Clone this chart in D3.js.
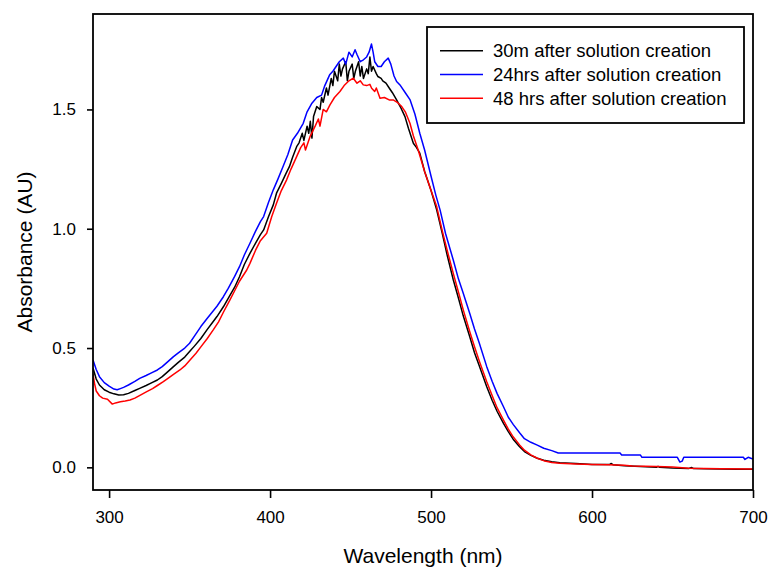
<!DOCTYPE html>
<html>
<head>
<meta charset="utf-8" />
<script src="https://d3js.org/d3.v7.min.js"></script>
<style>
    body { margin: 0; background: #fff; }
    text { font-family: "Liberation Sans", Arial, sans-serif; fill: #000; }
</style>
</head>
<body>
<div id="chart"></div>
<script>

// data: [wavelength (nm), absorbance (AU)]
const seriesNames = ["30m after solution creation", "24hrs after solution creation", "48 hrs after solution creation"];
const seriesColors = ["#000000", "#0000ff", "#ff0000"];

const abs30m = [
    [290,0.416],[292,0.37],[294,0.345],[297,0.325],[300,0.315],[303,0.308],[306,0.303],[309,0.304],[312,0.31],
    [316,0.322],[319,0.331],[323,0.343],[326,0.353],[330,0.366],[333,0.38],[336,0.398],[340,0.422],[343,0.44],
    [347,0.462],[350,0.485],[353,0.508],[357,0.54],[361,0.578],[364,0.605],[367,0.632],[371,0.673],[374,0.708],
    [378,0.755],[381,0.799],[384,0.85],[387.5,0.897],[391,0.94],[394,0.975],[396,0.995],[399,1.05],[402,1.1],
    [404,1.149],[407,1.19],[410,1.233],[412,1.26],[414,1.30],[416.5,1.344],[418,1.36],[420,1.40],[421,1.37],
    [423,1.43],[424,1.40],[425,1.45],[426,1.38],[427,1.47],[429,1.512],[431,1.50],[432,1.55],[433,1.53],
    [435,1.59],[436,1.56],[438,1.63],[439,1.60],[440,1.66],[442,1.62],[443,1.69],[444,1.64],[445,1.67],
    [447,1.70],[448,1.62],[449,1.66],[451,1.69],[452,1.63],[453,1.66],[455,1.70],[456,1.64],[457,1.68],
    [458,1.63],[460,1.67],[461,1.65],[462,1.72],[463,1.66],[464,1.68],[466,1.65],[467,1.638],[469,1.63],
    [470,1.62],[472,1.61],[474,1.59],[476,1.57],
    [478.6,1.54],[481,1.51],[483.8,1.47],[486,1.42],[489,1.358],[491,1.34],[493,1.317],[496,1.24],[500,1.16],
    [503.5,1.079],[507,0.98],[510,0.89],[513.8,0.786],[517,0.71],[520,0.635],[524,0.548],[527,0.48],[530,0.425],
    [534.6,0.338],[538,0.28],[541,0.235],[545,0.184],[548,0.15],[551,0.118],[555,0.086],[558,0.066],[562,0.05],
    [566,0.038],[570,0.03],[575,0.023],[580,0.019],[590,0.016],[600,0.012],[611,0.012],[612,0.016],[613,0.011],
    [620,0.007],[630,0.004],[640,0.0],[641,0.004],[642,0.0],[650,-0.003],[660,-0.005],[662,-0.001],[663,-0.005],
    [670,-0.006],[680,-0.007],[690,-0.008],[700,-0.008]
];

const abs24h = [
    [290,0.45],[292,0.41],[294,0.38],[297,0.355],[300,0.34],[303,0.328],[305,0.325],[307,0.33],[309,0.335],
    [312,0.345],[316,0.36],[319,0.373],[323,0.385],[326,0.395],[330,0.408],[333,0.422],[336,0.44],[340,0.464],
    [343,0.48],[347,0.50],[350,0.52],[353,0.55],[357,0.59],[361,0.625],[364,0.65],[367,0.675],[371,0.715],
    [374,0.75],[378,0.80],[381,0.841],[384,0.89],[387.5,0.939],[391,0.99],[394,1.03],[396,1.051],[399,1.11],
    [402,1.163],[405,1.21],[408,1.26],[411,1.31],[414,1.372],[417,1.40],[420.6,1.442],[423,1.49],[426,1.526],
    [429,1.55],[432,1.56],[434,1.60],[437,1.645],[439,1.66],[441,1.68],[443,1.70],[445.5,1.715],[447,1.69],
    [449,1.74],[451,1.72],[452.8,1.75],[454,1.73],[456,1.70],[458,1.708],[460,1.72],[461.5,1.74],[463,1.774],
    [464,1.74],[465,1.70],[467,1.68],[469,1.68],[471,1.70],[473.4,1.715],[475,1.69],[477,1.64],[478.6,1.617],
    [481,1.60],[484,1.57],[487,1.54],[490,1.48],[493,1.40],[496,1.33],[500,1.22],[503,1.14],[505.6,1.079],
    [509,0.98],[513.8,0.869],[517,0.79],[520,0.73],[524,0.646],[527,0.58],[530,0.52],[534.6,0.422],[538,0.36],
    [541,0.31],[545,0.254],[548,0.21],[551,0.18],[555,0.145],[558,0.12],[562,0.105],[566,0.093],[570,0.08],
    [575,0.07],[579,0.060],[617.4,0.060],[618.4,0.052],[630,0.052],[631,0.042],[653,0.042],[654.6,0.022],
    [656,0.026],[657,0.042],[694,0.042],[695,0.033],[697,0.042],[700,0.035]
];

const abs48h = [
    [290,0.39],[291,0.35],[292,0.32],[294,0.30],[296,0.29],[299,0.285],[302,0.265],[304,0.27],[307,0.275],
    [310,0.278],[313,0.282],[316,0.29],[320,0.305],[323.4,0.317],[327,0.33],[330,0.343],[333.7,0.359],
    [337,0.375],[340,0.39],[344,0.408],[347,0.425],[350,0.448],[354,0.478],[357,0.505],[361,0.54],[364.7,0.576],
    [368,0.61],[371,0.65],[375,0.701],[378,0.74],[381,0.78],[385.5,0.827],[387.5,0.855],[391,0.91],[394,0.95],
    [397.9,0.981],[401,1.05],[404,1.107],[407,1.16],[410.3,1.205],[413,1.25],[416.5,1.302],[419,1.34],
    [421,1.36],[422,1.33],[424.8,1.386],[428,1.43],[430,1.46],[431,1.43],[433,1.50],[435,1.49],[437.2,1.519],
    [440,1.55],[443.4,1.575],[446,1.60],[449,1.62],[451.7,1.631],[454,1.61],[456,1.62],[457.9,1.603],
    [460,1.60],[462,1.605],[463.1,1.589],[465,1.575],[466,1.59],[468.3,1.547],[471,1.55],[474,1.54],
    [476.5,1.54],[479,1.53],[481.8,1.512],[484,1.49],[486.9,1.442],[489,1.39],[492,1.33],[496,1.24],
    [500,1.16],[503.5,1.093],[507,0.99],[510,0.91],[513.8,0.813],[517,0.735],[520,0.66],[524,0.569],
    [527,0.505],[530,0.445],[534.6,0.359],[538,0.30],[541,0.25],[545,0.198],[548,0.16],[551,0.128],
    [555,0.094],[558,0.072],[562,0.052],[566,0.038],[570,0.028],[575,0.02],[580,0.017],[590,0.014],
    [600,0.012],[610,0.011],[620,0.009],[625,0.006],[640,0.003],[650,0.001],[660,-0.004],[680,-0.006],
    [700,-0.007]
];

const xTicks = [300, 400, 500, 600, 700];
const yTicks = [0.0, 0.5, 1.0, 1.5];

const allSeries = [abs30m, abs24h, abs48h];

const svgWidth = 769;
const svgHeight = 570;
const plot = { left: 93, right: 753, top: 14, bottom: 490 };

const svg = d3.select("#chart")
    .append("svg")
    .attr("width", svgWidth)
    .attr("height", svgHeight);

// scales
const xScale = d3.scaleLinear()
    .domain([290, 700])
    .range([plot.left, plot.right]);

const yScale = d3.scaleLinear()
    .domain([-0.095, 1.9])
    .range([plot.bottom, plot.top]);

// clip
svg.append("clipPath")
    .attr("id", "plotClip")
    .append("rect")
    .attr("x", plot.left)
    .attr("y", plot.top)
    .attr("width", plot.right - plot.left)
    .attr("height", plot.bottom - plot.top);

// lines
const line = d3.line()
    .x(d => xScale(d[0]))
    .y(d => yScale(d[1]));

svg.append("g")
    .attr("clip-path", "url(#plotClip)")
    .selectAll("path")
    .data(allSeries)
    .enter().append("path")
    .attr("d", line)
    .attr("fill", "none")
    .attr("stroke", (d, i) => seriesColors[i])
    .attr("stroke-width", 1.5)
    .attr("stroke-linejoin", "round");

// axes
const xAxis = d3.axisBottom(xScale)
    .tickValues(xTicks)
    .tickFormat(d3.format("d"))
    .tickSize(8)
    .tickSizeOuter(0)
    .tickPadding(13);

const gx = svg.append("g")
    .attr("transform", `translate(0, ${plot.bottom})`)
    .call(xAxis);

const yAxis = d3.axisLeft(yScale)
    .tickValues(yTicks)
    .tickFormat(d3.format(".1f"))
    .tickSize(6)
    .tickSizeOuter(0)
    .tickPadding(11);

const gy = svg.append("g")
    .attr("transform", `translate(${plot.left}, 0)`)
    .call(yAxis);

[gx, gy].forEach(g => {
    g.select(".domain").remove();
    g.selectAll(".tick line").attr("stroke", "#000").attr("stroke-width", 1.6);
    g.selectAll(".tick text")
        .style("font-family", "'Liberation Sans', Arial, sans-serif")
        .style("font-size", "17px")
        .attr("fill", "#000");
});

// frame
svg.append("rect")
    .attr("x", plot.left)
    .attr("y", plot.top)
    .attr("width", plot.right - plot.left)
    .attr("height", plot.bottom - plot.top)
    .attr("fill", "none")
    .attr("stroke", "#000")
    .attr("stroke-width", 1.8);

// axis labels
svg.append("text")
    .attr("x", (plot.left + plot.right) / 2)
    .attr("y", 563)
    .style("text-anchor", "middle")
    .style("font-size", "21px")
    .text("Wavelength (nm)");

svg.append("text")
    .attr("transform", "rotate(-90)")
    .attr("x", -(plot.top + plot.bottom) / 2)
    .attr("y", 32)
    .style("text-anchor", "middle")
    .style("font-size", "21px")
    .text("Absorbance (AU)");

// legend
const legend = svg.append("g");

legend.append("rect")
    .attr("x", 427)
    .attr("y", 27)
    .attr("width", 317)
    .attr("height", 96)
    .attr("fill", "#fff")
    .attr("stroke", "#000")
    .attr("stroke-width", 1.8);

const rows = legend.selectAll(".row")
    .data(seriesNames)
    .enter().append("g")
    .attr("class", "row")
    .attr("transform", (d, i) => `translate(0, ${50.7 + i * 23.8})`);

rows.append("line")
    .attr("x1", 440)
    .attr("x2", 483)
    .attr("stroke", (d, i) => seriesColors[i])
    .attr("stroke-width", 1.5);

rows.append("text")
    .attr("x", 493)
    .attr("dy", "0.35em")
    .style("font-size", "18.5px")
    .text(d => d);

</script>
</body>
</html>
